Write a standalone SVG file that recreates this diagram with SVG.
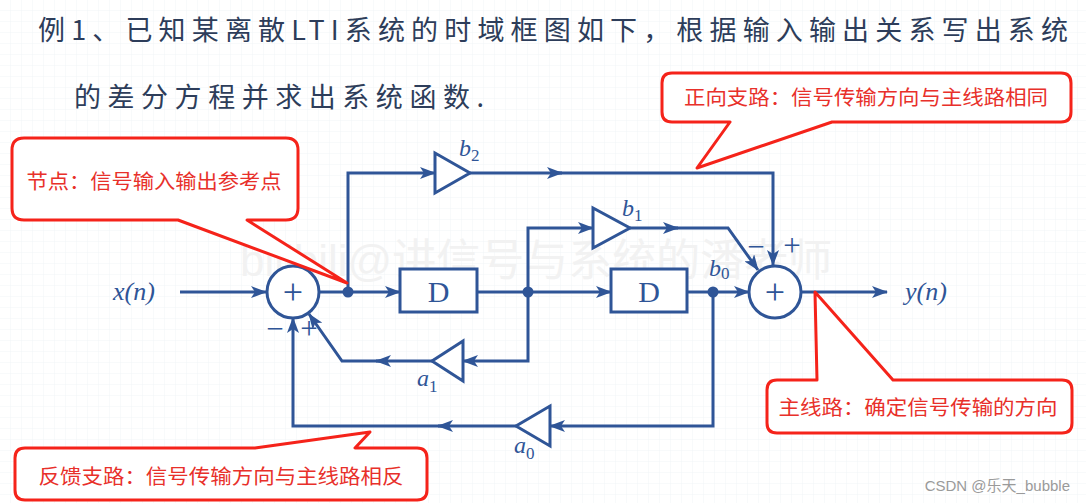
<svg xmlns="http://www.w3.org/2000/svg" width="1086" height="503" viewBox="0 0 1086 503">
<defs>
<pattern id="grid" width="11" height="11" patternUnits="userSpaceOnUse">
<path d="M11,0 V11 M0,11 H11" fill="none" stroke="#eef1f5" stroke-width="0.8"/>
</pattern>
<marker id="arr" markerUnits="userSpaceOnUse" markerWidth="16" markerHeight="12" refX="15" refY="6" orient="auto">
<path d="M0,0 L16,6 L0,12 L4,6 Z" fill="#2f5597"/>
</marker>
<style>
.ln{fill:none;stroke:#2f5597;stroke-width:3;stroke-linejoin:miter}
.arr{marker-end:url(#arr)}
.blk{fill:#fff;stroke:#2f5597;stroke-width:3}
.dot{fill:#2f5597}
.math{font-family:"Liberation Serif","DejaVu Serif",serif;font-style:italic;fill:#2f5597}
.sub{font-style:normal;font-size:17px}
.sign{font-family:"Liberation Serif","DejaVu Serif",serif;fill:#2f5597;font-size:31px}
.plus{font-family:"Liberation Serif","DejaVu Serif",serif;fill:#2f5597;font-size:36px}
.title{font-family:"Noto Sans CJK SC","Noto Sans",sans-serif;fill:#2d3d5a;font-size:27px}
.call{fill:#fff;stroke:#f5231a;stroke-width:3;stroke-linejoin:round}
.ct{font-family:"Noto Sans CJK SC","Noto Sans",sans-serif;fill:#e8302a;font-size:20px}
</style>
</defs>
<rect width="1086" height="503" fill="#ffffff"/>
<rect width="1086" height="503" fill="url(#grid)"/>
<text x="240" y="276" font-family="'Liberation Sans','Noto Sans CJK SC',sans-serif" font-size="44" fill="#f2f2f2">bilibili@讲信号与系统的潘老师</text>

<text class="title" x="38" y="40" textLength="1030" lengthAdjust="spacing">例1、已知某离散LTI系统的时域框图如下，根据输入输出关系写出系统</text>
<text class="title" x="74" y="107" textLength="410" lengthAdjust="spacing">的差分方程并求出系统函数.</text>

<g id="connectors">
<path class="ln arr" d="M180,292 H266"/>
<path class="ln" d="M319,292 H348"/>
<path class="ln arr" d="M348,292 H400"/>
<path class="ln arr" d="M348,292 V173 H435"/>
<path class="ln arr" d="M470,173 H562"/>
<path class="ln arr" d="M556,173 H773 V265"/>
<path class="ln" d="M477,292 H528"/>
<path class="ln arr" d="M528,292 H611"/>
<path class="ln arr" d="M528,292 V228 H593"/>
<path class="ln arr" d="M630,228 H678"/>
<path class="ln arr" d="M672,228 H728 L758,270"/>
<path class="ln" d="M687,292 H713"/>
<path class="ln arr" d="M713,292 H749"/>
<path class="ln arr" d="M713,292 V426 H550"/>
<path class="ln arr" d="M516,426 H438"/>
<path class="ln arr" d="M444,426 H293 V318"/>
<path class="ln arr" d="M528,292 V361 H463"/>
<path class="ln arr" d="M432,361 H376"/>
<path class="ln arr" d="M382,361 H342 L309,314"/>
<path class="ln arr" d="M801,292 H887"/>
</g>

<g id="x_in"><text class="math" x="113" y="300" font-size="26">x(n)</text></g>
<g id="y_out"><text class="math" x="905" y="300" font-size="26">y(n)</text></g>

<g id="adder1">
<circle class="blk" cx="293" cy="292" r="26"/>
<text class="plus" x="293" y="304" text-anchor="middle">+</text>
<text class="sign" x="275" y="339" text-anchor="middle">−</text>
<text class="sign" x="309" y="339" text-anchor="middle">+</text>
</g>
<g id="node1"><circle class="dot" cx="348" cy="292" r="5.5"/></g>
<g id="D1">
<rect class="blk" x="400" y="269" width="77" height="43"/>
<text x="438.5" y="302" text-anchor="middle" font-family="'Liberation Serif',serif" font-size="30" fill="#2f5597">D</text>
</g>
<g id="b2">
<polygon class="blk" points="435,153 435,193 470,173"/>
<text class="math" x="459" y="156" font-size="24">b<tspan class="sub" dy="5">2</tspan></text>
</g>
<g id="node2"><circle class="dot" cx="528" cy="292" r="5.5"/></g>
<g id="b1">
<polygon class="blk" points="593,208 593,248 630,228"/>
<text class="math" x="622" y="216" font-size="24">b<tspan class="sub" dy="5">1</tspan></text>
</g>
<g id="D2">
<rect class="blk" x="611" y="269" width="76" height="43"/>
<text x="649" y="302" text-anchor="middle" font-family="'Liberation Serif',serif" font-size="30" fill="#2f5597">D</text>
</g>
<g id="node3"><circle class="dot" cx="713" cy="292" r="5.5"/>
<text class="math" x="709" y="276" font-size="24">b<tspan class="sub" dy="3">0</tspan></text>
</g>
<g id="adder2">
<circle class="blk" cx="775" cy="292" r="26"/>
<text class="plus" x="775" y="304" text-anchor="middle">+</text>
<text class="sign" x="756" y="257" text-anchor="middle">−</text>
<text class="sign" x="792" y="256" text-anchor="middle">+</text>
</g>
<g id="a1">
<polygon class="blk" points="463,341 463,381 432,361"/>
<text class="math" x="417" y="386" font-size="24">a<tspan class="sub" dy="6">1</tspan></text>
</g>
<g id="a0">
<polygon class="blk" points="550,406 550,446 516,426"/>
<text class="math" x="514" y="453" font-size="24">a<tspan class="sub" dy="6">0</tspan></text>
</g>

<g id="callout_forward">
<path class="call" d="M672,73 H1061 Q1071,73 1071,83 V112 Q1071,122 1061,122 H832 L697,168 L730,122 H672 Q662,122 662,112 V83 Q662,73 672,73 Z"/>
<text class="ct" x="866" y="105" text-anchor="middle" textLength="364" lengthAdjust="spacingAndGlyphs">正向支路：信号传输方向与主线路相同</text>
</g>
<g id="callout_node">
<path class="call" d="M24,138 H286 Q298,138 298,150 V208 Q298,220 286,220 H247 L347,283 L178,220 H24 Q12,220 12,208 V150 Q12,138 24,138 Z"/>
<text class="ct" x="154" y="189" text-anchor="middle" textLength="255" lengthAdjust="spacingAndGlyphs">节点：信号输入输出参考点</text>
</g>
<g id="callout_main">
<path class="call" d="M777,380 H817 L815,292 L893,380 H1062 Q1072,380 1072,390 V423 Q1072,433 1062,433 H777 Q767,433 767,423 V390 Q767,380 777,380 Z"/>
<text class="ct" x="918" y="415" text-anchor="middle" textLength="279" lengthAdjust="spacingAndGlyphs">主线路：确定信号传输的方向</text>
</g>
<g id="callout_feedback">
<path class="call" d="M25,448 H255 L370,432 L355,448 H417 Q427,448 427,458 V490 Q427,500 417,500 H25 Q15,500 15,490 V458 Q15,448 25,448 Z"/>
<text class="ct" x="221" y="484" text-anchor="middle" textLength="365" lengthAdjust="spacingAndGlyphs">反馈支路：信号传输方向与主线路相反</text>
</g>

<text x="1070" y="491" text-anchor="end" font-family="'Liberation Sans','Noto Sans CJK SC',sans-serif" font-size="15" fill="#9a9a9a">CSDN @乐天_bubble</text>
</svg>
